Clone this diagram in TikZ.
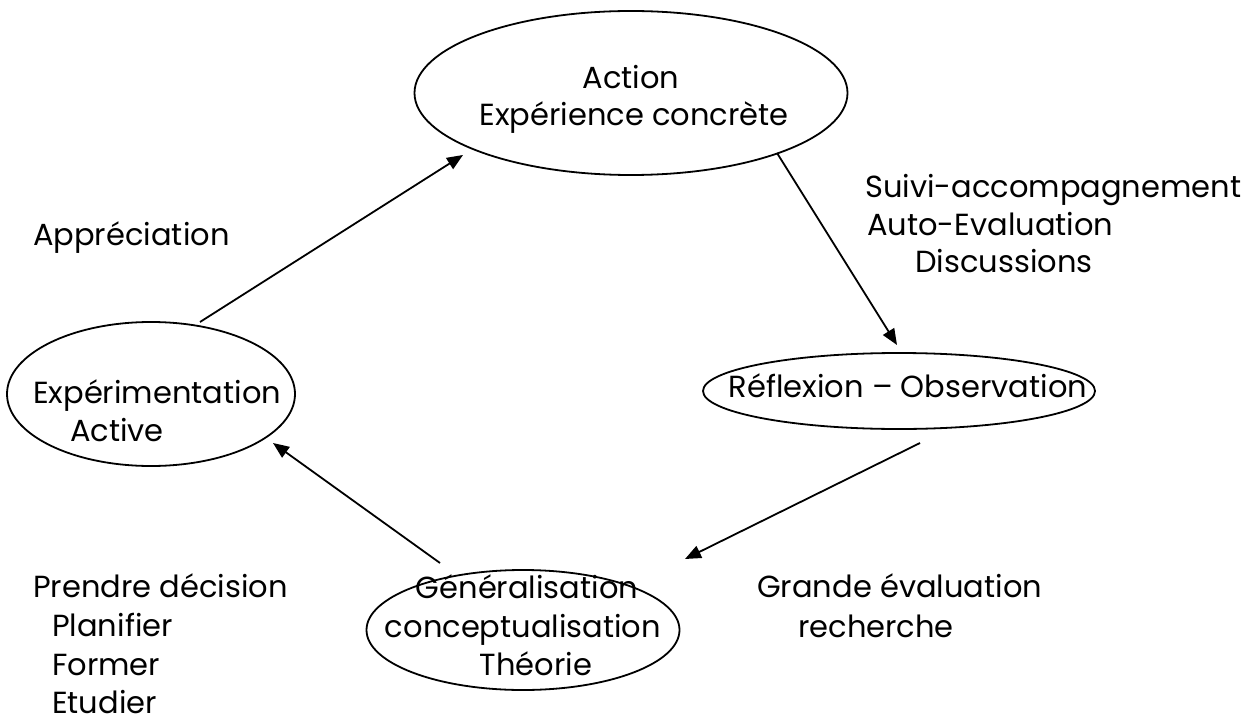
\documentclass[tikz,border=0pt]{standalone}
\usepackage{fontspec}
\setmainfont{Poppins}
\usetikzlibrary{shapes.geometric,arrows.meta}
\begin{document}
\begin{tikzpicture}[x=1pt,y=-1pt,
  oval/.style={draw,ellipse,line width=1.8pt,inner sep=0pt},
  lbl/.style={anchor=base west,inner sep=0pt,font=\fontsize{30.5}{36}\selectfont},
  clbl/.style={lbl,anchor=base},
  flow/.style={line width=1.8pt,-{Triangle[length=16pt,width=13pt]}}]
\useasboundingbox (0,0) rectangle (1257,722);
% ellipses
\node[oval,minimum width=433pt,minimum height=164pt] (act) at (631,93) {};
\node[oval,minimum width=392pt,minimum height=76pt] (ref) at (899,391) {};
\node[oval,minimum width=288pt,minimum height=144pt] (exp) at (151,394) {};
\node[oval,minimum width=313pt,minimum height=120pt] (gen) at (523,630) {};
% texts in ellipses
\node[clbl] (t1) at (631,89) {Action};
\node[clbl] (t2) at (634,126) {Expérience concrète};
\node[clbl] (t3) at (908,397) {Réflexion – Observation};
\node[lbl] (t4) at (33,403) {Expérimentation};
\node[lbl] (t5) at (70,441) {Active};
\node[clbl] (t6) at (527,598) {Généralisation};
\node[clbl] (t7) at (523,637) {conceptualisation};
\node[clbl] (t8) at (536,675) {Théorie};
% side texts
\node[lbl] (s1) at (865,197) {Suivi-accompagnement};
\node[lbl] (s2) at (867,235) {Auto-Evaluation};
\node[lbl] (s3) at (915,272) {Discussions};
\node[lbl] (s4) at (33,245) {Appréciation};
\node[lbl] (s5) at (33,597) {Prendre décision};
\node[lbl] (s6) at (52,636) {Planifier};
\node[lbl] (s7) at (52,675) {Former};
\node[lbl] (s8) at (52,713) {Etudier};
\node[lbl] (s9) at (757,597) {Grande évaluation};
\node[lbl] (s10) at (798,637) {recherche};
% arrow end points
\coordinate (a1s) at (200,322); \coordinate (a1e) at (463,155);
\coordinate (a2s) at (777,153); \coordinate (a2e) at (897,345);
\coordinate (a3s) at (920,443); \coordinate (a3e) at (685,559);
\coordinate (a4s) at (440,563); \coordinate (a4e) at (273,443);
\draw[flow] (a1s) -- (a1e);
\draw[flow] (a2s) -- (a2e);
\draw[flow] (a3s) -- (a3e);
\draw[flow] (a4s) -- (a4e);
\end{tikzpicture}
\end{document}
